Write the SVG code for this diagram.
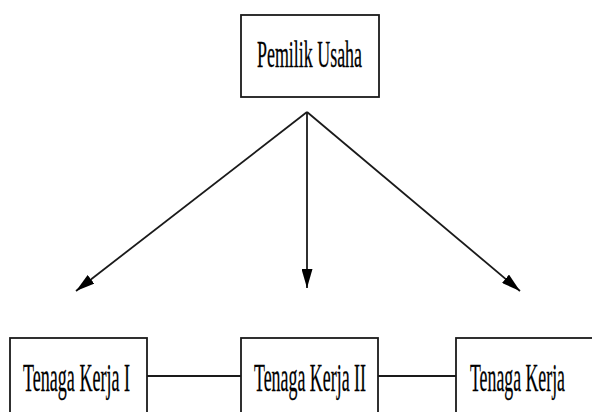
<svg xmlns="http://www.w3.org/2000/svg" width="592" height="412" viewBox="0 0 592 412">
  <style>
    .box { fill: #ffffff; stroke: #1a1a1a; stroke-width: 1.8; }
    .lbl { font-family: "Liberation Serif", "Times New Roman", serif; fill: #000000; stroke: #000000; stroke-width: 0.3; }
    .conn { stroke: #1a1a1a; stroke-width: 1.8; fill: none; }
  </style>
  <defs>
    <marker id="arrow" viewBox="0 0 19 11" refX="19" refY="5.5" markerWidth="19" markerHeight="11" markerUnits="userSpaceOnUse" orient="auto">
      <path d="M0,0 L19,5.5 L0,11 z" fill="#000000"/>
    </marker>
  </defs>
  <rect width="592" height="412" fill="#ffffff"/>
  <g id="connectors">
    <line class="conn" x1="307" y1="112" x2="76" y2="291" marker-end="url(#arrow)"/>
    <line class="conn" x1="307" y1="112" x2="307" y2="288" marker-end="url(#arrow)"/>
    <line class="conn" x1="307" y1="112" x2="520" y2="291" marker-end="url(#arrow)"/>
    <line class="conn" x1="147" y1="376" x2="241" y2="376"/>
    <line class="conn" x1="378" y1="376" x2="456" y2="376"/>
  </g>
  <g id="pemilik-usaha">
    <rect class="box" x="241" y="15" width="138" height="82"/>
    <text class="lbl" x="257" y="67" font-size="38" textLength="105" lengthAdjust="spacingAndGlyphs">Pemilik Usaha</text>
  </g>
  <g id="tenaga-kerja-1">
    <rect class="box" x="10" y="338" width="137" height="90"/>
    <text class="lbl" x="23" y="391" font-size="40" textLength="107" lengthAdjust="spacingAndGlyphs">Tenaga Kerja I</text>
  </g>
  <g id="tenaga-kerja-2">
    <rect class="box" x="241" y="338" width="137" height="90"/>
    <text class="lbl" x="254" y="391" font-size="40" textLength="112" lengthAdjust="spacingAndGlyphs">Tenaga Kerja II</text>
  </g>
  <g id="tenaga-kerja-3">
    <rect class="box" x="456" y="338" width="150" height="90"/>
    <text class="lbl" x="470" y="391" font-size="40" textLength="95" lengthAdjust="spacingAndGlyphs">Tenaga Kerja</text>
  </g>
</svg>
